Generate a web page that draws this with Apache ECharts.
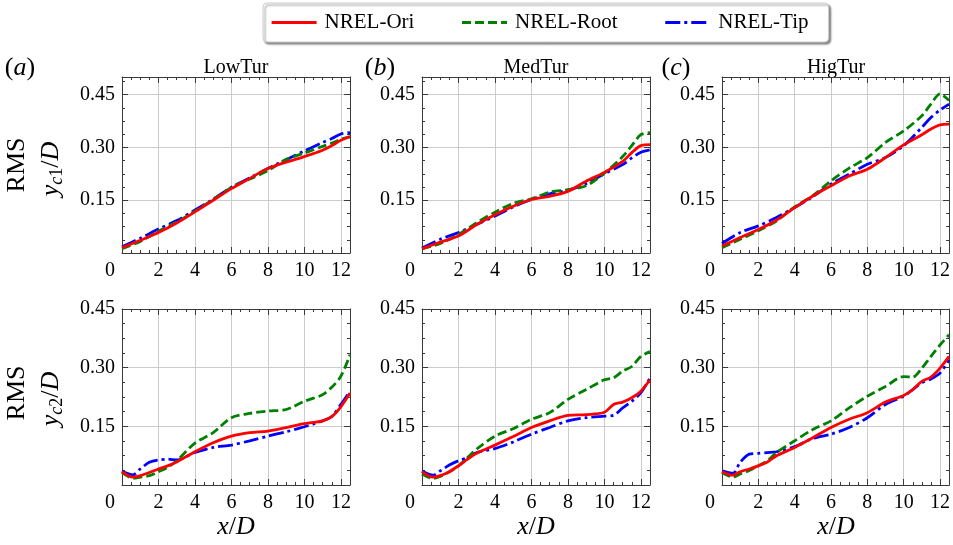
<!DOCTYPE html>
<html>
<head>
<meta charset="utf-8">
<script src="https://cdn.jsdelivr.net/npm/echarts@6/dist/echarts.min.js"></script>
<style>
  html, body { margin: 0; padding: 0; background: #fff; }
  #chart { width: 953px; height: 545px; }
</style>
</head>
<body>
<div id="chart"></div>
<script>
// series names and cases
const names = ['NREL-Ori', 'NREL-Root', 'NREL-Tip']
const cases = ['LowTur', 'MedTur', 'HigTur']
const tags = ['a', 'b', 'c']

// x/D stations
const xTop = [0, 1, 2, 3, 4, 5, 6, 7, 8, 9, 10, 11, 11.5, 12, 12.5]
const xBot = [0, 0.6, 1, 1.5, 2, 2.5, 3, 4, 5, 6, 7, 8, 9, 10, 10.5, 11, 11.5, 12, 12.5]

// RMS y_c1/D (top row)
const lowC1Ori  = [0.015, 0.036, 0.058, 0.085, 0.117, 0.150, 0.183, 0.212, 0.240, 0.258, 0.274, 0.292, 0.305, 0.320, 0.331]
const lowC1Root = [0.012, 0.033, 0.062, 0.088, 0.119, 0.152, 0.186, 0.210, 0.234, 0.266, 0.284, 0.303, 0.312, 0.323, 0.330]
const lowC1Tip  = [0.018, 0.042, 0.068, 0.092, 0.122, 0.153, 0.187, 0.213, 0.240, 0.265, 0.290, 0.314, 0.325, 0.338, 0.342]

const medC1Ori  = [0.012, 0.031, 0.048, 0.081, 0.109, 0.133, 0.152, 0.161, 0.175, 0.204, 0.229, 0.260, 0.285, 0.305, 0.308]
const medC1Root = [0.012, 0.027, 0.053, 0.086, 0.116, 0.141, 0.154, 0.173, 0.180, 0.191, 0.227, 0.274, 0.305, 0.336, 0.342]
const medC1Tip  = [0.014, 0.039, 0.058, 0.081, 0.105, 0.131, 0.152, 0.168, 0.178, 0.197, 0.225, 0.251, 0.270, 0.286, 0.293]

const higC1Ori  = [0.020, 0.044, 0.067, 0.093, 0.129, 0.162, 0.191, 0.219, 0.238, 0.271, 0.307, 0.336, 0.352, 0.364, 0.366]
const higC1Root = [0.015, 0.039, 0.063, 0.091, 0.131, 0.163, 0.205, 0.241, 0.271, 0.314, 0.347, 0.390, 0.423, 0.452, 0.433]
const higC1Tip  = [0.027, 0.058, 0.077, 0.101, 0.129, 0.160, 0.196, 0.224, 0.252, 0.271, 0.305, 0.357, 0.385, 0.406, 0.423]

// RMS y_c2/D (bottom row)
const lowC2Ori  = [0.034, 0.020, 0.024, 0.032, 0.041, 0.049, 0.059, 0.085, 0.108, 0.125, 0.134, 0.138, 0.147, 0.157, 0.160, 0.164, 0.175, 0.200, 0.235]
const lowC2Root = [0.032, 0.017, 0.020, 0.024, 0.034, 0.045, 0.062, 0.107, 0.134, 0.172, 0.183, 0.189, 0.193, 0.214, 0.222, 0.231, 0.250, 0.278, 0.333]
const lowC2Tip  = [0.036, 0.026, 0.041, 0.058, 0.064, 0.066, 0.064, 0.083, 0.096, 0.102, 0.113, 0.125, 0.136, 0.149, 0.156, 0.164, 0.175, 0.206, 0.240]

const medC2Ori  = [0.034, 0.020, 0.024, 0.034, 0.049, 0.066, 0.081, 0.102, 0.124, 0.147, 0.164, 0.178, 0.180, 0.186, 0.206, 0.212, 0.223, 0.240, 0.269]
const medC2Root = [0.028, 0.017, 0.022, 0.034, 0.049, 0.070, 0.092, 0.125, 0.144, 0.168, 0.185, 0.219, 0.244, 0.269, 0.274, 0.291, 0.303, 0.329, 0.341]
const medC2Tip  = [0.036, 0.025, 0.036, 0.051, 0.062, 0.070, 0.083, 0.093, 0.110, 0.130, 0.147, 0.164, 0.172, 0.176, 0.178, 0.197, 0.214, 0.236, 0.274]

const higC2Ori  = [0.034, 0.025, 0.034, 0.041, 0.049, 0.059, 0.075, 0.096, 0.121, 0.147, 0.168, 0.185, 0.212, 0.229, 0.244, 0.265, 0.276, 0.299, 0.329]
const higC2Root = [0.032, 0.020, 0.028, 0.037, 0.049, 0.062, 0.083, 0.113, 0.142, 0.164, 0.197, 0.227, 0.252, 0.277, 0.276, 0.299, 0.329, 0.358, 0.384]
const higC2Tip  = [0.036, 0.030, 0.058, 0.079, 0.081, 0.083, 0.085, 0.098, 0.119, 0.130, 0.147, 0.172, 0.206, 0.227, 0.244, 0.261, 0.271, 0.286, 0.320]

const panels = [
  {x: xTop, ys: [lowC1Ori, lowC1Root, lowC1Tip], ymax: 0.5},
  {x: xTop, ys: [medC1Ori, medC1Root, medC1Tip], ymax: 0.5},
  {x: xTop, ys: [higC1Ori, higC1Root, higC1Tip], ymax: 0.5},
  {x: xBot, ys: [lowC2Ori, lowC2Root, lowC2Tip], ymax: 0.45},
  {x: xBot, ys: [medC2Ori, medC2Root, medC2Tip], ymax: 0.45},
  {x: xBot, ys: [higC2Ori, higC2Root, higC2Tip], ymax: 0.45}
]

const colors = ['#ff0000', '#008000', '#0000ff']
const dashes = ['solid', [9, 4], [15, 4, 3, 4]]
const FONT = 'Liberation Serif'
const frame = '#3a3a3a'

const lefts = [122, 422, 722]
const tops = [77, 309]

let grids = [], xAxes = [], yAxes = [], series = []

panels.forEach((p, g) => {
  grids.push({left: lefts[g % 3], top: tops[Math.floor(g / 3)], width: 228, height: 176, containLabel: false})

  // bottom + top x axes
  ;['bottom', 'top'].forEach(pos => {
    xAxes.push({
      type: 'value', gridIndex: g, position: pos, min: 0, max: 12.5, interval: 2,
      axisLine: {show: true, onZero: false, lineStyle: {color: frame, width: 1}},
      axisTick: {show: true, inside: true, length: 6, lineStyle: {color: frame}},
      minorTick: {show: true, splitNumber: 4, length: 3, lineStyle: {color: frame}},
      splitLine: {show: pos === 'bottom', lineStyle: {color: '#cccccc', width: 1}},
      axisLabel: {
        show: pos === 'bottom', margin: 8, color: '#000', fontFamily: FONT, fontSize: 20,
        formatter: v => {
          if (Math.abs(v) < 1e-9) return '{z|0}'
          return Math.abs(v % 2) < 1e-9 ? String(v) : ''
        },
        rich: {z: {fontFamily: FONT, fontSize: 20, color: '#000', padding: [0, 24, 0, 0]}}
      }
    })
  })

  // left + right y axes
  ;['left', 'right'].forEach(pos => {
    yAxes.push({
      type: 'value', gridIndex: g, position: pos, min: 0, max: p.ymax, interval: 0.15,
      axisLine: {show: true, onZero: false, lineStyle: {color: frame, width: 1}},
      axisTick: {show: true, inside: true, length: 6, lineStyle: {color: frame}},
      minorTick: {show: true, splitNumber: 4, length: 3, lineStyle: {color: frame}},
      splitLine: {show: pos === 'left', lineStyle: {color: '#cccccc', width: 1}},
      axisLabel: {
        show: pos === 'left', margin: 7, color: '#000', fontFamily: FONT, fontSize: 20,
        formatter: v => (v < 1e-9 || Math.abs(v - 0.5) < 1e-9) ? '' : v.toFixed(2)
      }
    })
  })

  p.ys.forEach((ys, k) => {
    series.push({
      name: names[k], type: 'line', xAxisIndex: 2 * g, yAxisIndex: 2 * g,
      data: p.x.map((x, i) => [x, ys[i]]),
      showSymbol: false, symbol: 'none', smooth: 0.3,
      color: colors[k],
      lineStyle: {color: colors[k], width: 2.8, type: dashes[k]},
      z: 3 + (2 - k)
    })
  })
})

// text decorations
let graphics = []
cases.forEach((c, i) => {
  graphics.push({type: 'text', x: lefts[i] + 114, y: 68, style: {
    text: c, fontFamily: FONT, fontSize: 20, fill: '#000', align: 'center', verticalAlign: 'middle'}})
  graphics.push({type: 'text', x: [20, 380, 676][i], y: 68, style: {
    text: '({it|' + tags[i] + '})', fontFamily: FONT, fontSize: 26, fill: '#000', align: 'center', verticalAlign: 'middle',
    rich: {it: {fontFamily: FONT, fontSize: 26, fontStyle: 'italic', fill: '#000'}}}})
  graphics.push({type: 'text', x: lefts[i] + 114, y: 527, style: {
    text: '{it|x}/{it|D}', fontFamily: FONT, fontSize: 26, fill: '#000', align: 'center', verticalAlign: 'middle',
    rich: {it: {fontFamily: FONT, fontSize: 26, fontStyle: 'italic', fill: '#000'}}}})
})

function rowLabel(sub, cy1, cy2) {
  graphics.push({type: 'text', x: 17, y: cy1, rotation: Math.PI / 2, style: {
    text: 'RMS', fontFamily: FONT, fontSize: 26, fill: '#000', align: 'center', verticalAlign: 'middle'}})
  graphics.push({type: 'text', x: 51, y: cy2, rotation: Math.PI / 2, style: {
    text: '{it|y}{subI|c}{sub|' + sub + '}{n|/}{it|D}', fontFamily: FONT, fontSize: 26, fill: '#000',
    align: 'center', verticalAlign: 'middle',
    rich: {
      it: {fontFamily: FONT, fontSize: 26, fontStyle: 'italic', lineHeight: 30, verticalAlign: 'middle'},
      n: {fontFamily: FONT, fontSize: 26, lineHeight: 30, verticalAlign: 'middle'},
      subI: {fontFamily: FONT, fontSize: 18, fontStyle: 'italic', lineHeight: 14, verticalAlign: 'bottom'},
      sub: {fontFamily: FONT, fontSize: 18, lineHeight: 14, verticalAlign: 'bottom'}
    }}})
}
rowLabel('1', 165, 169)
rowLabel('2', 393, 399)

const option = {
  animation: false,
  backgroundColor: '#fff',
  legend: {
    data: names, left: 263, top: 3, itemWidth: 45, itemHeight: 14, itemGap: 46,
    padding: [9, 20, 9, 7],
    backgroundColor: '#fff', borderColor: '#cccccc', borderWidth: 1, borderRadius: 4,
    shadowColor: 'rgba(0,0,0,0.45)', shadowBlur: 2, shadowOffsetX: 2, shadowOffsetY: 2,
    itemStyle: {opacity: 0},
    lineStyle: {width: 3.2},
    textStyle: {fontFamily: FONT, fontSize: 21, color: '#000', padding: [0, 0, 0, 3]}
  },
  grid: grids,
  xAxis: xAxes,
  yAxis: yAxes,
  series: series,
  graphic: graphics
}

let chart = echarts.init(document.getElementById('chart'))
chart.setOption(option)
</script>
</body>
</html>
